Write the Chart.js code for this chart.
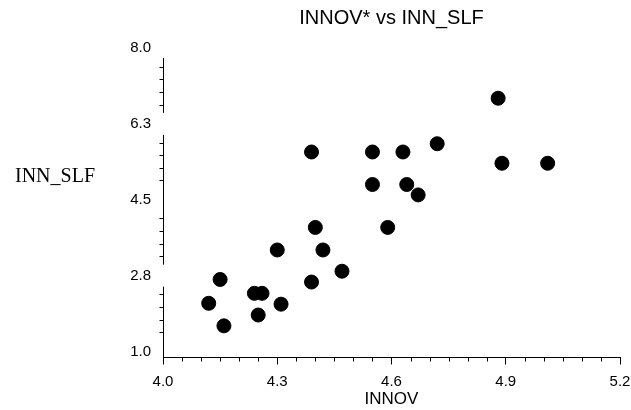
<!DOCTYPE html>
<html>
<head>
<meta charset="utf-8">
<title>INNOV* vs INN_SLF</title>
<script src="https://cdn.jsdelivr.net/npm/chart.js@4.4.1/dist/chart.umd.min.js"></script>
<style>
  html, body { margin: 0; padding: 0; background: #fff; }
  #wrap { width: 631px; height: 410px; }
</style>
</head>
<body>
<div id="wrap"><canvas id="scatterChart"></canvas></div>
<script>
// values: INNOV on x, INN_SLF on y
const innov = [4.12, 4.15, 4.16, 4.24, 4.26, 4.25, 4.30, 4.31, 4.39, 4.40, 4.42, 4.47,
               4.39, 4.55, 4.63, 4.72, 4.55, 4.64, 4.67, 4.59, 4.88, 4.89, 5.01];
const innSlf = [2.25, 2.80, 1.73, 2.48, 2.48, 1.98, 3.48, 2.23, 2.74, 4.00, 3.48, 2.99,
                5.74, 5.74, 5.74, 5.93, 4.99, 4.99, 4.75, 4.00, 6.98, 5.48, 5.48];

const xTicks = [4.0, 4.3, 4.6, 4.9, 5.2];
const yTicks = [1.0, 2.75, 4.5, 6.25, 8.0];
const yTickLabels = ['1.0', '2.8', '4.5', '6.3', '8.0'];
const xMinorStep = 0.05;
const yMinorPerMajor = 6;
// labels that break the y axis line in the original
const yGapLabels = [2.75, 6.25];

const SANS = '"Liberation Sans", Arial, Helvetica, sans-serif';
const SERIF = '"Liberation Serif", "Times New Roman", serif';
const LABEL_SHIFT = -6;

const points = innov.map((v, i) => ({ x: v, y: innSlf[i] }));

// minor ticks, y axis line with gaps, horizontal y title
const axisDecor = {
  id: 'axisDecor',
  afterDraw(chart) {
    const { ctx, chartArea, scales: { x, y } } = chart;
    const ax = Math.round(chartArea.left) + 0.5;
    const by = Math.round(chartArea.bottom) - 0.5;
    const labelYs = yTicks.map(v => y.getPixelForValue(v) + LABEL_SHIFT);

    ctx.save();
    ctx.strokeStyle = '#000';
    ctx.lineWidth = 1;

    // y axis line
    let start = labelYs[labelYs.length - 1] + 10;
    ctx.beginPath();
    yGapLabels.slice().sort((a, b) => b - a).forEach(v => {
      const c = y.getPixelForValue(v) + LABEL_SHIFT;
      ctx.moveTo(ax, start);
      ctx.lineTo(ax, c - 11);
      start = c + 11;
    });
    ctx.moveTo(ax, start);
    ctx.lineTo(ax, by + 0.5);

    // y minor ticks
    for (let i = 0; i < yTicks.length - 1; i++) {
      const step = (yTicks[i + 1] - yTicks[i]) / yMinorPerMajor;
      for (let k = 1; k < yMinorPerMajor; k++) {
        const py = Math.round(y.getPixelForValue(yTicks[i] + k * step)) + 0.5;
        if (labelYs.some(c => Math.abs(py - c) < 9)) continue;
        ctx.moveTo(ax - 4, py);
        ctx.lineTo(ax, py);
      }
    }

    // x minor ticks
    const n = Math.round((xTicks[xTicks.length - 1] - xTicks[0]) / xMinorStep);
    for (let i = 1; i < n; i++) {
      if (i % 6 === 0) continue;
      const px = Math.round(x.getPixelForValue(xTicks[0] + i * xMinorStep)) + 0.5;
      ctx.moveTo(px, by);
      ctx.lineTo(px, by + 4);
    }
    ctx.stroke();

    ctx.fillStyle = '#000';
    ctx.font = '20px ' + SERIF;
    ctx.textAlign = 'center';
    ctx.textBaseline = 'middle';
    ctx.fillText('INN_SLF', 55, 177);
    ctx.restore();
  }
};

new Chart(document.getElementById('scatterChart'), {
  type: 'scatter',
  data: {
    datasets: [{
      label: 'INN_SLF',
      data: points,
      backgroundColor: '#000',
      borderColor: '#000',
      borderWidth: 1,
      pointRadius: 7,
      pointHoverRadius: 7
    }]
  },
  options: {
    responsive: true,
    maintainAspectRatio: false,
    animation: false,
    layout: { padding: { left: 0, right: 11, top: 0, bottom: 0 } },
    plugins: {
      legend: { display: false },
      tooltip: { enabled: false },
      title: {
        display: true,
        text: 'INNOV* vs INN_SLF',
        color: '#000',
        fullSize: false,
        font: { family: SANS, size: 20, weight: 'normal' },
        padding: { top: 6, bottom: 24 }
      }
    },
    scales: {
      x: {
        type: 'linear',
        min: xTicks[0],
        max: xTicks[xTicks.length - 1],
        afterBuildTicks: s => { s.ticks = xTicks.map(v => ({ value: v })); },
        afterFit: s => {
          s.height = 52.5;
          s.paddingLeft = 0;
          s.paddingRight = 0;
        },
        grid: { drawOnChartArea: false, tickLength: 7, color: '#000' },
        border: { color: '#000', width: 1 },
        ticks: {
          color: '#000',
          padding: 8,
          maxRotation: 0,
          font: { family: SANS, size: 15 },
          callback: v => v.toFixed(1)
        },
        title: {
          display: true,
          text: 'INNOV',
          color: '#000',
          font: { family: SANS, size: 17 },
          padding: { top: 0, bottom: 0 }
        }
      },
      y: {
        type: 'linear',
        min: yTicks[0],
        max: yTicks[yTicks.length - 1],
        afterBuildTicks: s => { s.ticks = yTicks.map(v => ({ value: v })); },
        afterFit: s => { s.width = 163; },
        grid: { display: false },
        border: { display: false },
        ticks: {
          color: '#000',
          padding: 4,
          labelOffset: LABEL_SHIFT,
          font: { family: SANS, size: 15 },
          callback: (v, i) => yTickLabels[i]
        }
      }
    }
  },
  plugins: [axisDecor]
});
</script>
</body>
</html>
